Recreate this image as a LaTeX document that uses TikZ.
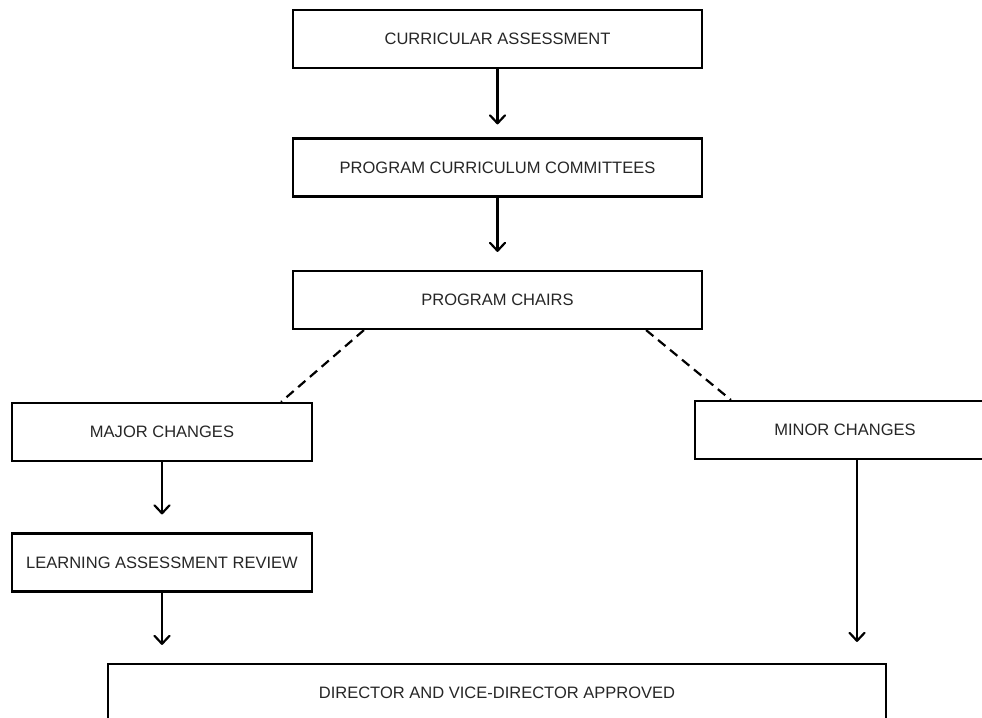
\documentclass[tikz,border=0pt]{standalone}
\usepackage{fontspec}
\setmainfont{Liberation Sans}
\usepackage{tikz}
\usetikzlibrary{arrows.meta}

\begin{document}
\begin{tikzpicture}[x=0.02cm,y=-0.02cm,line width=1.25pt,
    box/.style={draw,minimum height=1.16cm,inner sep=0pt,text=black!85,font=\fontsize{9.4}{11}\selectfont},
    flow/.style={-{Straight Barb[length=1.6mm,width=3mm,round]},shorten >=0.36cm},
    split/.style={dash pattern=on 0.19cm off 0.12cm}]
  \path[use as bounding box,clip] (0,0) rectangle (982,717);
  \node[box,minimum width=8.18cm] (ca) at (497.5,39) {CURRICULAR ASSESSMENT};
  \node[box,minimum width=8.18cm] (pcc) at (497.5,167.5) {PROGRAM CURRICULUM COMMITTEES};
  \node[box,minimum width=8.18cm] (pc) at (497.5,300) {PROGRAM CHAIRS};
  \node[box,minimum width=6cm] (major) at (162,432) {MAJOR CHANGES};
  \node[box,minimum width=6cm] (minor) at (845,430) {MINOR CHANGES};
  \node[box,minimum width=6cm] (lar) at (162,562.5) {LEARNING ASSESSMENT REVIEW};
  \node[box,minimum width=15.56cm] (dir) at (497,693) {DIRECTOR AND VICE-DIRECTOR APPROVED};
  \draw[flow,shorten >=0.26cm] (ca) -- (pcc);
  \draw[flow] (pcc) -- (pc);
  \draw[split] ([xshift=1.44cm]pc.south west) -- ([xshift=-0.64cm]major.north east);
  \draw[split] ([xshift=-1.14cm]pc.south east) -- ([xshift=0.74cm]minor.north west);
  \draw[flow] (major) -- (lar);
  \draw[flow] (lar.south) -- (lar.south |- dir.north);
  \draw[flow,shorten >=0.42cm] ([xshift=0.24cm]minor.south) -- ([xshift=0.24cm]minor.south |- dir.north);
  %\node at (982,717) {};
\end{tikzpicture}
\end{document}
